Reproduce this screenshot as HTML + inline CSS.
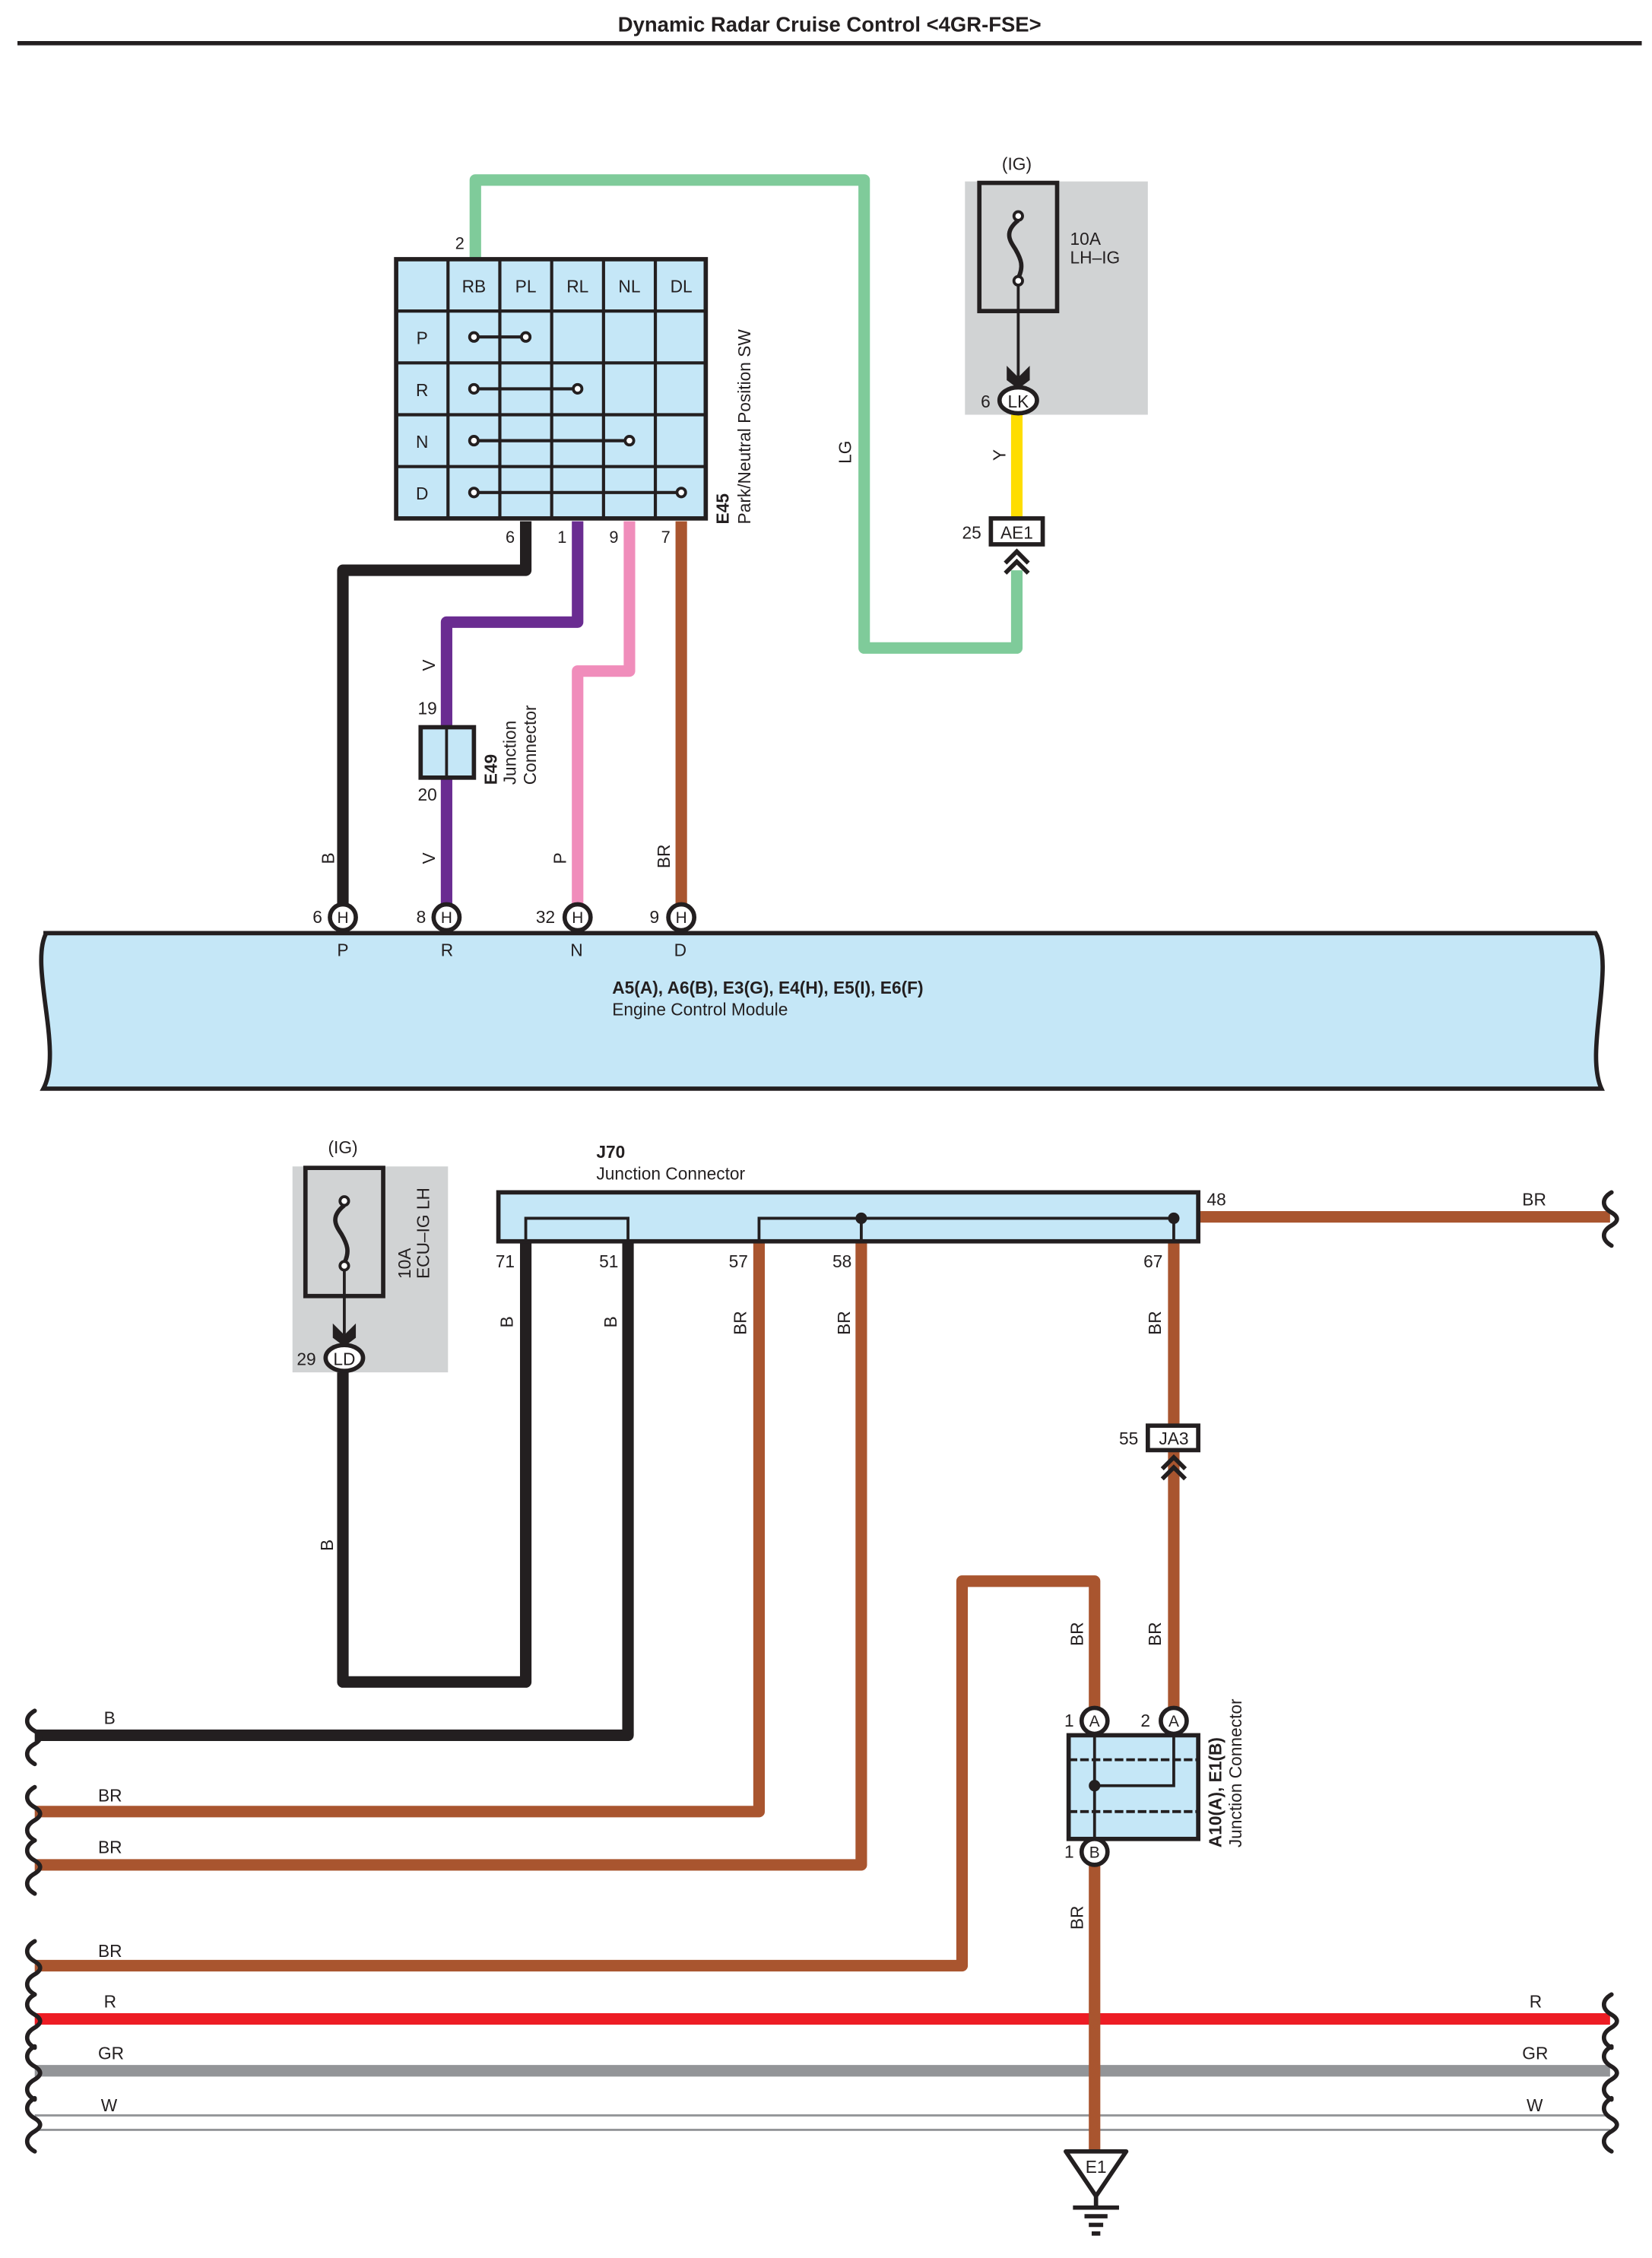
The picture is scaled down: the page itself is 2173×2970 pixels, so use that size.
<!DOCTYPE html>
<html><head><meta charset="utf-8"><style>
html,body{margin:0;padding:0;background:#fff}
svg{display:block}
text{font-family:"Liberation Sans",sans-serif;fill:#231f20}
</style></head><body>
<svg width="2173" height="2970" viewBox="0 0 1147 1568" xmlns="http://www.w3.org/2000/svg">
<defs>
<path id="brk" d="M0,-17 c-7,4 -7,10 0,14 c5,3 5,6 0,9 c-7,4 -7,10 0,14" fill="none" stroke="#231f20" stroke-width="3" stroke-linecap="round"/>
</defs>
<rect width="1147" height="1568" fill="#fff"/>
<text x="576" y="22" font-size="14.5" font-weight="bold" text-anchor="middle">Dynamic Radar Cruise Control &lt;4GR-FSE&gt;</text>
<line x1="12" y1="30" x2="1140" y2="30" stroke="#231f20" stroke-width="3"/>

<g fill="none" stroke-linejoin="round" stroke-width="8">
<path d="M330,180 V125 H600 V450 H706 V396" stroke="#7fcb9a"/>
<path d="M365,362 V396 H238 V630" stroke="#231f20"/>
<path d="M401,362 V432 H310 V630" stroke="#6a2c91"/>
<path d="M437,362 V466 H401 V630" stroke="#f08dbb"/>
<path d="M473,362 V630" stroke="#a9552f"/>
<path d="M706,288 V360" stroke="#fedd00"/>
</g>

<rect x="275" y="180" width="215" height="180" fill="#c5e7f7" stroke="#231f20" stroke-width="3"/>
<g stroke="#231f20" stroke-width="2.2">
<line x1="311" y1="180" x2="311" y2="360"/><line x1="347" y1="180" x2="347" y2="360"/>
<line x1="383" y1="180" x2="383" y2="360"/><line x1="419" y1="180" x2="419" y2="360"/>
<line x1="455" y1="180" x2="455" y2="360"/>
<line x1="275" y1="216" x2="490" y2="216"/><line x1="275" y1="252" x2="490" y2="252"/>
<line x1="275" y1="288" x2="490" y2="288"/><line x1="275" y1="324" x2="490" y2="324"/>
<line x1="329" y1="234" x2="365" y2="234"/><line x1="329" y1="270" x2="401" y2="270"/>
<line x1="329" y1="306" x2="437" y2="306"/><line x1="329" y1="342" x2="473" y2="342"/>
</g>
<g fill="#fff" stroke="#231f20" stroke-width="2">
<circle cx="329" cy="234" r="3"/><circle cx="365" cy="234" r="3"/>
<circle cx="329" cy="270" r="3"/><circle cx="401" cy="270" r="3"/>
<circle cx="329" cy="306" r="3"/><circle cx="437" cy="306" r="3"/>
<circle cx="329" cy="342" r="3"/><circle cx="473" cy="342" r="3"/>
</g>
<g font-size="12" text-anchor="middle">
<text x="329" y="203">RB</text><text x="365" y="203">PL</text><text x="401" y="203">RL</text><text x="437" y="203">NL</text><text x="473" y="203">DL</text>
<text x="293" y="239">P</text><text x="293" y="275">R</text><text x="293" y="311">N</text><text x="293" y="347">D</text>
</g>
<g font-size="11.5">
<text x="316" y="173">2</text>
<text x="351" y="377">6</text><text x="387" y="377">1</text><text x="423" y="377">9</text><text x="459" y="377">7</text>
</g>
<text transform="translate(506,364) rotate(-90)" font-size="12" font-weight="bold">E45</text>
<text transform="translate(521,364) rotate(-90)" font-size="12">Park/Neutral Position SW</text>
<text transform="translate(591,322) rotate(-90)" font-size="12">LG</text>

<rect x="670" y="126" width="127" height="162" fill="#d1d3d4"/>
<text x="706" y="118" font-size="12" text-anchor="middle">(IG)</text>
<rect x="680" y="127" width="54" height="89" fill="none" stroke="#231f20" stroke-width="3"/>
<path d="M707,153 c-10,8 -6,14 -2,20 c4,7 6,12 2,20" fill="none" stroke="#231f20" stroke-width="3"/>
<circle cx="707" cy="150" r="3" fill="#fff" stroke="#231f20" stroke-width="2"/>
<circle cx="707" cy="195" r="3" fill="#fff" stroke="#231f20" stroke-width="2"/>
<line x1="707" y1="198" x2="707" y2="262" stroke="#231f20" stroke-width="2"/>
<path d="M699,254 L707,262 L715,254 L715,264 L707,270 L699,264 Z" fill="#231f20"/>
<ellipse cx="707" cy="278" rx="13" ry="9" fill="#fff" stroke="#231f20" stroke-width="3"/>
<text x="707" y="283" font-size="12" text-anchor="middle">LK</text>
<text x="681" y="283" font-size="12">6</text>
<text x="743" y="170" font-size="12">10A</text><text x="743" y="183" font-size="12">LH–IG</text>
<text transform="translate(698,320) rotate(-90)" font-size="12">Y</text>
<rect x="688" y="360" width="36" height="18" fill="#fff" stroke="#231f20" stroke-width="3"/>
<text x="706" y="374" font-size="12" text-anchor="middle">AE1</text>
<text x="668" y="374" font-size="12">25</text>
<path d="M698,391 l8,-8 l8,8 M698,398 l8,-8 l8,8" fill="none" stroke="#231f20" stroke-width="3"/>

<rect x="292" y="505" width="37" height="35" fill="#c5e7f7" stroke="#231f20" stroke-width="3"/>
<line x1="310" y1="505" x2="310" y2="540" stroke="#231f20" stroke-width="2"/>
<text x="290" y="496" font-size="12">19</text><text x="290" y="556" font-size="12">20</text>
<text transform="translate(345,545) rotate(-90)" font-size="12" font-weight="bold">E49</text>
<text transform="translate(358,545) rotate(-90)" font-size="12">Junction</text>
<text transform="translate(372,545) rotate(-90)" font-size="12">Connector</text>
<g font-size="12">
<text transform="translate(302,466) rotate(-90)">V</text>
<text transform="translate(232,600) rotate(-90)">B</text>
<text transform="translate(302,600) rotate(-90)">V</text>
<text transform="translate(393,600) rotate(-90)">P</text>
<text transform="translate(465,603) rotate(-90)">BR</text>
</g>

<path d="M30,648 H1108 C1122,670 1100,730 1112,756 H30 C44,730 20,670 32,648 Z" fill="#c5e7f7" stroke="#231f20" stroke-width="3"/>
<g stroke="#231f20" stroke-width="3" fill="#fff">
<circle cx="238" cy="637" r="9"/><circle cx="310" cy="637" r="9"/><circle cx="401" cy="637" r="9"/><circle cx="473" cy="637" r="9"/>
</g>
<g font-size="11" text-anchor="middle">
<text x="238" y="641">H</text><text x="310" y="641">H</text><text x="401" y="641">H</text><text x="473" y="641">H</text>
</g>
<g font-size="12">
<text x="217" y="641">6</text><text x="289" y="641">8</text><text x="372" y="641">32</text><text x="451" y="641">9</text>
<text x="234" y="664">P</text><text x="306" y="664">R</text><text x="396" y="664">N</text><text x="468" y="664">D</text>
<text x="425" y="690" font-weight="bold">A5(A), A6(B), E3(G), E4(H), E5(I), E6(F)</text>
<text x="425" y="705">Engine Control Module</text>
</g>

<g fill="none" stroke-linejoin="round" stroke-width="8">
<path d="M238,952 V1168 H365 V862" stroke="#231f20"/>
<path d="M436,862 V1205 H24" stroke="#231f20"/>
<path d="M527,862 V1258 H24" stroke="#a9552f"/>
<path d="M598,862 V1295 H24" stroke="#a9552f"/>
<path d="M832,845 H1118" stroke="#a9552f"/>
<path d="M815,862 V1186" stroke="#a9552f"/>
<path d="M24,1365 H668 V1098 H760 V1186" stroke="#a9552f"/>
<path d="M24,1402 H1118" stroke="#ed1c24"/>
<path d="M24,1438 H1118" stroke="#939598"/>
</g>
<line x1="24" y1="1469" x2="1118" y2="1469" stroke="#939598" stroke-width="1.5"/>
<line x1="24" y1="1479" x2="1118" y2="1479" stroke="#939598" stroke-width="1.5"/>
<path d="M760,1295 V1493" stroke="#a9552f" stroke-width="8" fill="none"/>
<g>
<use href="#brk" x="24" y="1205"/><use href="#brk" x="24" y="1258"/><use href="#brk" x="24" y="1295"/>
<use href="#brk" x="24" y="1365"/><use href="#brk" x="24" y="1402"/><use href="#brk" x="24" y="1438"/>
<use href="#brk" x="24" y="1474"/>
<use href="#brk" x="1119" y="845"/><use href="#brk" x="1119" y="1402"/><use href="#brk" x="1119" y="1438"/><use href="#brk" x="1119" y="1474"/>
</g>
<g font-size="12">
<text x="72" y="1197">B</text><text x="68" y="1251">BR</text><text x="68" y="1287">BR</text><text x="68" y="1359">BR</text>
<text x="72" y="1394">R</text><text x="68" y="1430">GR</text><text x="70" y="1466">W</text>
<text x="1062" y="1394">R</text><text x="1057" y="1430">GR</text><text x="1060" y="1466">W</text>
<text x="1057" y="837">BR</text>
</g>

<rect x="203" y="810" width="108" height="143" fill="#d1d3d4"/>
<text x="238" y="801" font-size="12" text-anchor="middle">(IG)</text>
<rect x="212" y="811" width="54" height="89" fill="none" stroke="#231f20" stroke-width="3"/>
<path d="M239,837 c-10,8 -6,14 -2,20 c4,7 6,12 2,20" fill="none" stroke="#231f20" stroke-width="3"/>
<circle cx="239" cy="834" r="3" fill="#fff" stroke="#231f20" stroke-width="2"/>
<circle cx="239" cy="879" r="3" fill="#fff" stroke="#231f20" stroke-width="2"/>
<line x1="239" y1="882" x2="239" y2="927" stroke="#231f20" stroke-width="2"/>
<path d="M231,919 L239,927 L247,919 L247,929 L239,935 L231,929 Z" fill="#231f20"/>
<ellipse cx="239" cy="943" rx="13" ry="9" fill="#fff" stroke="#231f20" stroke-width="3"/>
<text x="239" y="948" font-size="12" text-anchor="middle">LD</text>
<text x="206" y="948" font-size="12">29</text>
<text transform="translate(285,888) rotate(-90)" font-size="12">10A</text>
<text transform="translate(298,888) rotate(-90)" font-size="12">ECU–IG LH</text>
<text transform="translate(231,1077) rotate(-90)" font-size="12">B</text>

<text x="414" y="804" font-size="12" font-weight="bold">J70</text>
<text x="414" y="819" font-size="12">Junction Connector</text>
<rect x="346" y="828" width="486" height="34" fill="#c5e7f7" stroke="#231f20" stroke-width="3"/>
<path d="M365,862 V846 H436 V862 M527,862 V846 H815 V862 M598,846 V862" fill="none" stroke="#231f20" stroke-width="2"/>
<circle cx="598" cy="846" r="4" fill="#231f20"/><circle cx="815" cy="846" r="4" fill="#231f20"/>
<g font-size="12">
<text x="344" y="880">71</text><text x="416" y="880">51</text><text x="506" y="880">57</text><text x="578" y="880">58</text><text x="794" y="880">67</text>
<text x="838" y="837">48</text>
<text transform="translate(356,922) rotate(-90)">B</text>
<text transform="translate(428,922) rotate(-90)">B</text>
<text transform="translate(518,927) rotate(-90)">BR</text>
<text transform="translate(590,927) rotate(-90)">BR</text>
<text transform="translate(806,927) rotate(-90)">BR</text>
<text transform="translate(806,1143) rotate(-90)">BR</text>
<text transform="translate(752,1143) rotate(-90)">BR</text>
<text transform="translate(752,1340) rotate(-90)">BR</text>
</g>
<rect x="797" y="990" width="35" height="17" fill="#fff" stroke="#231f20" stroke-width="3"/>
<text x="815" y="1003" font-size="12" text-anchor="middle">JA3</text>
<text x="777" y="1003" font-size="12">55</text>
<path d="M807,1020 l8,-8 l8,8 M807,1027 l8,-8 l8,8" fill="none" stroke="#231f20" stroke-width="3"/>

<rect x="742" y="1205" width="90" height="72" fill="#c5e7f7" stroke="#231f20" stroke-width="3"/>
<g stroke="#231f20" stroke-width="2" fill="none">
<line x1="742" y1="1222" x2="832" y2="1222" stroke-dasharray="6,2"/>
<line x1="742" y1="1258" x2="832" y2="1258" stroke-dasharray="6,2"/>
<path d="M760,1205 V1277 M760,1240 H815 V1205"/>
</g>
<circle cx="760" cy="1240" r="4" fill="#231f20"/>
<g stroke="#231f20" stroke-width="3" fill="#fff">
<circle cx="760" cy="1195" r="9"/><circle cx="815" cy="1195" r="9"/><circle cx="760" cy="1286" r="9"/>
</g>
<g font-size="11" text-anchor="middle">
<text x="760" y="1199">A</text><text x="815" y="1199">A</text><text x="760" y="1290">B</text>
</g>
<g font-size="12">
<text x="739" y="1199">1</text><text x="792" y="1199">2</text><text x="739" y="1290">1</text>
<text transform="translate(848,1283) rotate(-90)" font-weight="bold">A10(A), E1(B)</text>
<text transform="translate(862,1283) rotate(-90)">Junction Connector</text>
</g>

<path d="M740,1494 H782 L761,1525 Z" fill="#fff" stroke="#231f20" stroke-width="3" stroke-linejoin="round"/>
<text x="761" y="1509" font-size="12" text-anchor="middle">E1</text>
<g stroke="#231f20" stroke-width="3">
<line x1="761" y1="1525" x2="761" y2="1533"/>
<line x1="745" y1="1533" x2="777" y2="1533"/>
<line x1="753" y1="1539" x2="769" y2="1539"/>
<line x1="756" y1="1545" x2="766" y2="1545"/>
<line x1="758" y1="1551" x2="764" y2="1551"/>
</g>
</svg>
</body></html>
